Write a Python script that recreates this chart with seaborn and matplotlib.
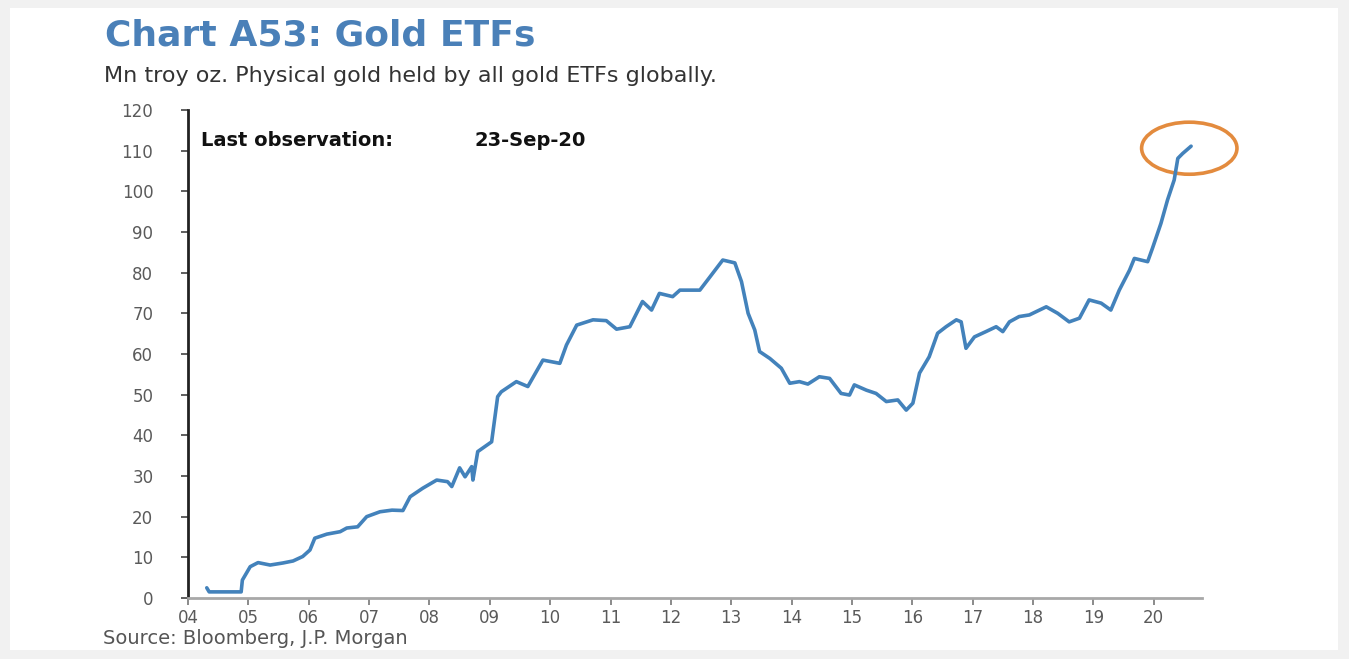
import numpy as np
import pandas as pd
import matplotlib
matplotlib.use('Agg')
import matplotlib.pyplot as plt
import seaborn as sns
from matplotlib.patches import Ellipse, Rectangle

# Mn troy oz held by gold ETFs (decimal years)
years = [2004.31, 2004.35, 2004.88, 2004.90, 2005.03, 2005.16, 2005.36, 2005.57, 2005.74, 2005.90,
         2006.02, 2006.10, 2006.30, 2006.52, 2006.63, 2006.81, 2006.96, 2007.18, 2007.38, 2007.56,
         2007.68, 2007.89, 2008.12, 2008.30, 2008.37, 2008.50, 2008.59, 2008.70, 2008.72, 2008.80,
         2009.03, 2009.13, 2009.19, 2009.44, 2009.63, 2009.88, 2010.16, 2010.27, 2010.44, 2010.71,
         2010.93, 2011.10, 2011.32, 2011.53, 2011.68, 2011.81, 2012.03, 2012.15, 2012.48, 2012.65,
         2012.86, 2013.06, 2013.17, 2013.28, 2013.39, 2013.47, 2013.64, 2013.83, 2013.97, 2014.13,
         2014.27, 2014.46, 2014.63, 2014.82, 2014.96, 2015.04, 2015.24, 2015.40, 2015.57, 2015.76,
         2015.90, 2016.01, 2016.12, 2016.28, 2016.42, 2016.56, 2016.73, 2016.81, 2016.89, 2017.03,
         2017.22, 2017.39, 2017.50, 2017.61, 2017.77, 2017.94, 2018.22, 2018.41, 2018.60, 2018.77,
         2018.93, 2019.13, 2019.29, 2019.43, 2019.60, 2019.68, 2019.90, 2019.98, 2020.12, 2020.23,
         2020.34, 2020.40, 2020.48, 2020.62]
holdings = [2.5, 1.5, 1.5, 4.4, 7.7, 8.7, 8.1, 8.6, 9.1, 10.2,
            11.8, 14.7, 15.7, 16.3, 17.2, 17.5, 20.0, 21.2, 21.6, 21.5,
            24.9, 27.0, 29.0, 28.6, 27.4, 32.0, 29.8, 32.3, 29.0, 36.0,
            38.4, 49.5, 50.7, 53.2, 52.0, 58.5, 57.7, 62.2, 67.1, 68.4,
            68.2, 66.1, 66.7, 72.9, 70.8, 74.9, 74.1, 75.7, 75.7, 79.0,
            83.1, 82.4, 77.8, 70.0, 65.9, 60.6, 58.9, 56.5, 52.8, 53.2,
            52.6, 54.4, 54.0, 50.3, 49.9, 52.4, 51.1, 50.3, 48.3, 48.7,
            46.2, 47.9, 55.3, 59.3, 65.1, 66.7, 68.4, 67.9, 61.4, 64.2,
            65.5, 66.7, 65.5, 67.9, 69.2, 69.6, 71.6, 70.0, 67.9, 68.8,
            73.3, 72.5, 70.8, 75.7, 80.6, 83.5, 82.7, 86.0, 92.1, 97.9,
            102.8, 108.1, 109.3, 111.1]

tick_years = list(range(2004, 2021))
tick_labels = ['04', '05', '06', '07', '08', '09', '10', '11', '12', '13',
               '14', '15', '16', '17', '18', '19', '20']
y_ticks = list(range(0, 121, 10))

df = pd.DataFrame({'year': years, 'holdings': holdings})

sns.set_style('white')
plt.rcParams['font.family'] = ['DejaVu Sans']

fig = plt.figure(figsize=(13.49, 6.59), dpi=100, facecolor='#f1f1f1')
# white page inside the grey frame
fig.patches.append(Rectangle((10 / 1349, 9 / 659), 1328 / 1349, 642 / 659,
                             transform=fig.transFigure, facecolor='white',
                             edgecolor='none', zorder=-10))

ax = fig.add_axes([0.1394, 0.0926, 0.7516, 0.7405])
ax.set_facecolor('none')
ax.set_zorder(5)

sns.lineplot(data=df, x='year', y='holdings', ax=ax, color='#4382bb', linewidth=2.6)

ax.set_xlim(2004, 2020.8)
ax.set_ylim(0, 120)
ax.set_xticks(tick_years)
ax.set_xticklabels(tick_labels)
ax.set_yticks(y_ticks)
ax.set_xlabel('')
ax.set_ylabel('')

for side in ['top', 'right']:
    ax.spines[side].set_visible(False)
ax.spines['left'].set_color('#222222')
ax.spines['left'].set_linewidth(2)
ax.spines['bottom'].set_color('#a8a8a8')
ax.spines['bottom'].set_linewidth(2)

ax.tick_params(axis='y', direction='out', length=5, width=1.2, color='#444444',
               labelsize=12, labelcolor='#5a5a5a', pad=20, left=True)
ax.tick_params(axis='x', direction='out', length=5, width=1.2, color='#777777',
               labelsize=12, labelcolor='#5a5a5a', pad=3, bottom=True)

# circle around latest point
ell = Ellipse((years[-1] - 0.03, holdings[-1] - 0.5), width=1.58, height=12.8,
              fill=False, edgecolor='#e38b3e', linewidth=2.6, clip_on=False)
ax.add_patch(ell)

ax.text(0.013, 0.937, 'Last observation:', transform=ax.transAxes,
        fontsize=14, fontweight='bold', color='#111111', ha='left', va='center')
ax.text(0.283, 0.937, '23-Sep-20', transform=ax.transAxes,
        fontsize=14, fontweight='bold', color='#111111', ha='left', va='center')

fig.text(105 / 1349, 1 - 35 / 659, 'Chart A53: Gold ETFs', fontsize=26,
         fontweight='bold', color='#4a80b8', ha='left', va='center')
fig.text(104 / 1349, 1 - 76 / 659,
         'Mn troy oz. Physical gold held by all gold ETFs globally.',
         fontsize=16, color='#333333', ha='left', va='center')
fig.text(103 / 1349, 1 - 638 / 659, 'Source: Bloomberg, J.P. Morgan',
         fontsize=14, color='#555555', ha='left', va='center')

fig.savefig('out.png', dpi=100, facecolor=fig.get_facecolor())
